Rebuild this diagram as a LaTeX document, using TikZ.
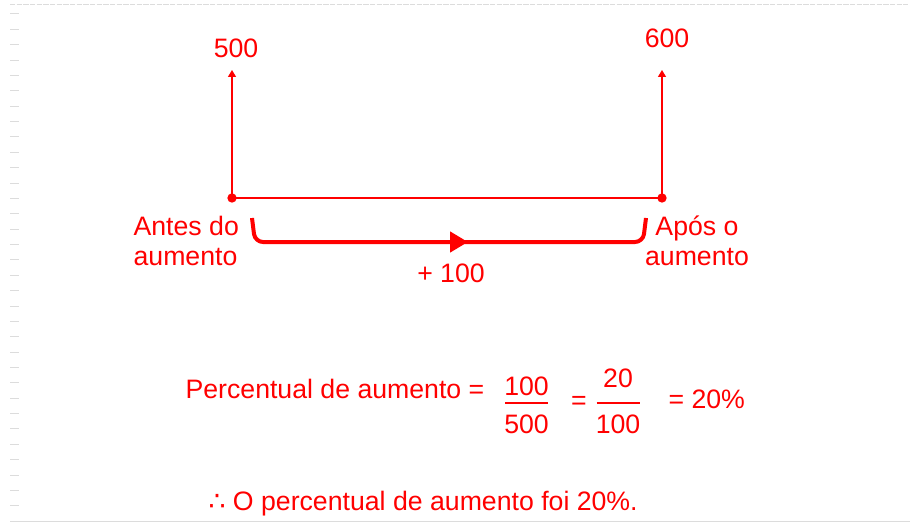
\documentclass[tikz,border=0pt]{standalone}
\usepackage{fontspec}
\setmainfont{Liberation Sans}
\newfontfamily\dejavu{DejaVu Sans}
\usetikzlibrary{arrows.meta, positioning}
\definecolor{auRed}{HTML}{FF0000}
\definecolor{auGrid}{HTML}{DCDCDC}
\tikzset{
  auDot/.style={circle, fill=auRed, inner sep=0pt, minimum size=7pt},
  auLbl/.style={text=auRed, inner sep=0pt, font=\fontsize{20pt}{22.5pt}\selectfont},
  auTip/.style={-{Triangle[length=5.25pt, width=6pt]}}
}
\begin{document}
\begin{tikzpicture}[x=0.75pt, y=-0.75pt, line width=0.9pt]
  \useasboundingbox (0,0) rectangle (910,524);
  % page frame
  \draw[auGrid, line width=0.75pt, dash pattern=on 4pt off 1pt] (10,5) -- (908,5);
  \draw[auGrid, line width=0.75pt] (10,521) -- (910,521);
  \foreach \i in {0,...,32}
    \draw[auGrid, line width=0.75pt] (10,14+15.37*\i) -- (19,14+15.37*\i);

  % timeline
  \node[auDot] (antes) at (232,198) {};
  \node[auDot] (apos) at (662,198) {};
  \coordinate (antesTop) at (232,70);
  \coordinate (aposTop) at (662,70);
  \draw[auRed] (antes.center) -- (apos.center);
  \draw[auRed, auTip] (antes.center) -- (antesTop);
  \draw[auRed, auTip] (apos.center) -- (aposTop);
  \node[auLbl, anchor=base] (v500) at (236,58) {500};
  \node[auLbl, anchor=base] (v600) at (667,48) {600};
  \node[auLbl, anchor=north west, align=left] (antesLbl) at (133,216) {Antes do\\aumento};
  \node[auLbl, anchor=north, align=center] (aposLbl) at (697,215) {Após o\\aumento};

  % bracket with the difference
  \coordinate (brA) at (252,218);
  \coordinate (brAc) at (255,242);
  \coordinate (brBc) at (643,242);
  \coordinate (brB) at (646,218);
  \draw[auRed, line width=3pt, rounded corners=6pt] (brA) -- (brAc) -- (brBc) -- (brB);
  \coordinate (midL) at (428,242);
  \coordinate (midR) at (468,242);
  \draw[auRed, line width=3.6pt, -{Triangle[length=13.5pt, width=15pt]}] (midL) -- (midR);
  \node[auLbl, anchor=base] (diff) at (451,282) {+ 100};

  % percentage
  \node[auLbl, anchor=base west] (pct) at (185,398) {Percentual de aumento =};
  \foreach \name/\x/\ny/\num/\den in {fracA/526.5/395/100/500, fracB/618/387/20/100}{
    \node[auLbl, anchor=base] (\name-n) at (\x,\ny) {\num};
    \node[auLbl, anchor=base] (\name-d) at (\x,433) {\den};
    \draw[auRed] (\x-21.5,403) -- (\x+21.5,403);
  }
  \node[auLbl, anchor=base] (eqMid) at (579,409) {=};
  \node[auLbl, anchor=base west] (res) at (668,408) {= 20\%};
  \node[auLbl, anchor=base west] (concl) at (208,510) {{\dejavu ∴} O percentual de aumento foi 20\%.};
\end{tikzpicture}
\end{document}
